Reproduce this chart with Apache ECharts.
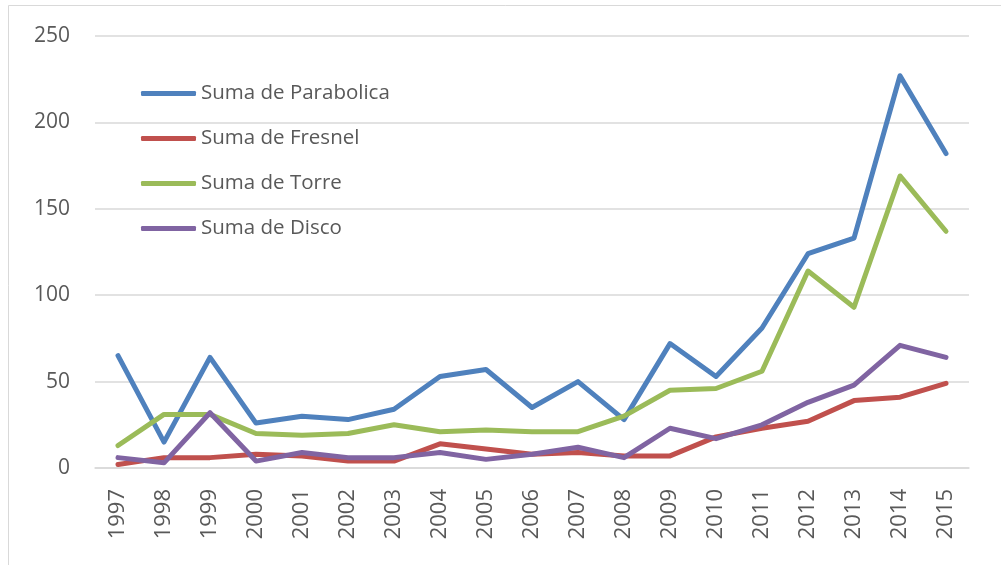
<!DOCTYPE html>
<html>
<head>
<meta charset="utf-8">
<script src="https://cdn.jsdelivr.net/npm/echarts@6/dist/echarts.min.js"></script>
<style>html,body{margin:0;padding:0;background:#fff;}#c{width:1001px;height:565px;}</style>
</head>
<body>
<div id="c"></div>
<script>
const years = ['1997','1998','1999','2000','2001','2002','2003','2004','2005','2006','2007','2008','2009','2010','2011','2012','2013','2014','2015'];
const parabolica = [65,15,64,26,30,28,34,53,57,35,50,28,72,53,81,124,133,227,182];
const fresnel = [2,6,6,8,7,4,4,14,11,8,9,7,7,18,23,27,39,41,49];
const torre = [13,31,31,20,19,20,25,21,22,21,21,30,45,46,56,114,93,169,137];
const disco = [6,3,32,4,9,6,6,9,5,8,12,6,23,17,25,38,48,71,64];
const seriesNames = ['Suma de Parabolica','Suma de Fresnel','Suma de Torre','Suma de Disco'];
const colors = ['#4F81BD','#C0504D','#9BBB59','#8064A2'];
const yTicks = {min:0, max:250, interval:50};

const chart = echarts.init(document.getElementById('c'), null, {renderer:'canvas'});
const font = '"Open Sans", "Liberation Sans", sans-serif';
const dataSets = [parabolica, fresnel, torre, disco];
chart.setOption({
  animation:false,
  backgroundColor:'#fff',
  color: colors,
  graphic:[{type:'rect', shape:{x:8.5,y:5.5,width:1200,height:800}, style:{fill:'none', stroke:'#D9D9D9', lineWidth:1}, silent:true}],
  grid:{left:95, right:32, top:36, bottom:97, containLabel:false},
  legend:{
    orient:'vertical', left:136, top:78,
    itemWidth:55, itemHeight:5, itemGap:24, itemTextGap:4,
    icon:'roundRect',
    textStyle:{fontFamily:font, fontSize:20.5, color:'#595959'},
    data: seriesNames
  },
  xAxis:{
    type:'category', data:years, boundaryGap:true,
    axisLine:{show:true, lineStyle:{color:'#D9D9D9', width:1.5}},
    axisTick:{show:false},
    axisLabel:{rotate:90, margin:21, fontFamily:font, fontSize:22, color:'#595959', interval:0}
  },
  yAxis:{
    type:'value', min:yTicks.min, max:yTicks.max, interval:yTicks.interval,
    axisLine:{show:false}, axisTick:{show:false},
    axisLabel:{margin:25, fontFamily:font, fontSize:21, color:'#595959'},
    splitLine:{lineStyle:{color:'#D9D9D9', width:1.5}}
  },
  series: seriesNames.map((n,i)=>({
    name:n, type:'line', data:dataSets[i], symbol:'none', smooth:false,
    lineStyle:{width:5, color:colors[i], cap:'round', join:'round'},
    itemStyle:{color:colors[i]}
  }))
});
</script>
</body>
</html>
